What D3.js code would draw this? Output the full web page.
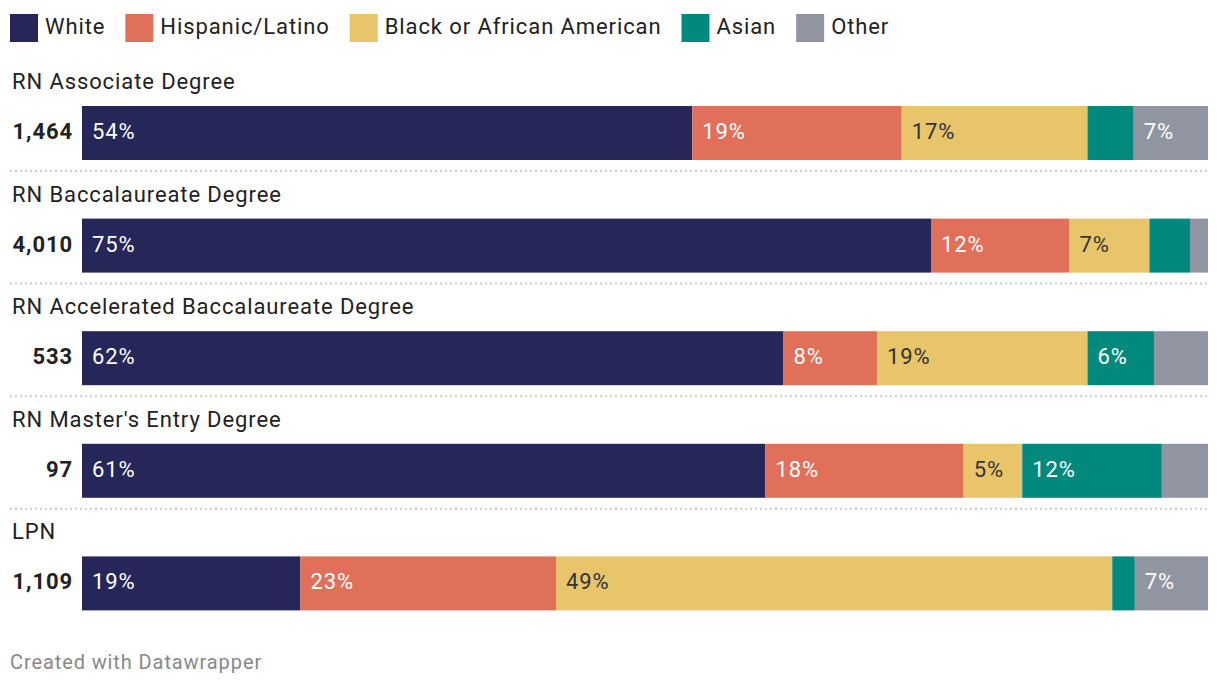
<!DOCTYPE html>
<html><head><meta charset="utf-8">
<script src="https://cdn.jsdelivr.net/npm/d3@7"></script>
<style>body{margin:0;background:#fff;font-family:Roboto,"Noto Sans",sans-serif;} text{letter-spacing:0.9px;}</style>
</head><body><svg id="c" width="1220" height="688"></svg>
<script>
const categories = ["RN Associate Degree","RN Baccalaureate Degree","RN Accelerated Baccalaureate Degree","RN Master's Entry Degree","LPN"];
const totals = ["1,464","4,010","533","97","1,109"];
const seriesNames = ["White","Hispanic/Latino","Black or African American","Asian","Other"];
const white = [54.2, 75.4, 62.3, 60.7, 19.4];
const hispanic = [18.6, 12.3, 8.3, 17.6, 22.7];
const black = [16.5, 7.1, 18.7, 5.2, 49.4];
const asian = [4.1, 3.6, 5.9, 12.4, 2.0];
const other = [6.6, 1.6, 4.8, 4.1, 6.5];
const colors = ["#262659","#e0705a","#e8c46b","#02897e","#9195a1"];
const textColors = ["#fff","#fff","#333","#fff","#fff"];

const series = [white, hispanic, black, asian, other];
const svg = d3.select("#c");
const x = d3.scaleLinear().domain([0,100]).range([82,1208]);
const y = d3.scaleBand().domain(categories).range([68, 631]).paddingInner(0).paddingOuter(0);
const color = d3.scaleOrdinal().domain(seriesNames).range(colors);

// legend
const leg = svg.append("g");
let lx = 10;
seriesNames.forEach((n,i)=>{
  leg.append("rect").attr("x",lx).attr("y",14).attr("width",28).attr("height",28).attr("fill",color(n));
  const t = leg.append("text").attr("x",lx+35).attr("y",34).attr("font-size",22).attr("fill","#222").text(n);
  lx += 35 + t.node().getComputedTextLength() + 20;
});

categories.forEach((c,i)=>{
  const g = svg.append("g").attr("transform",`translate(0,${y(c)})`);
  g.append("text").attr("x",12).attr("y",21).attr("font-size",22).attr("fill","#222").text(c);
  g.append("text").attr("x",73).attr("y",71).attr("text-anchor","end").attr("font-size",22).attr("font-weight","bold").attr("fill","#222").text(totals[i]);
  let acc = 0;
  series.forEach((s,j)=>{
    const v = s[i];
    const x0 = x(acc), x1 = x(acc+v);
    g.append("rect").attr("x",x0).attr("y",38).attr("width",x1-x0).attr("height",54).attr("fill",colors[j]);
    if (v >= 5) {
      g.append("text").attr("x",x0+10).attr("y",71).attr("font-size",22).attr("fill",textColors[j]).text(Math.round(v)+"%");
    }
    acc += v;
  });
  if (i < categories.length-1) {
    g.append("line").attr("x1",10).attr("x2",1208).attr("y1",103).attr("y2",103)
      .attr("stroke","#ccc").attr("stroke-width",2).attr("stroke-dasharray","2,3");
  }
});

svg.append("text").attr("x",10).attr("y",669).attr("font-size",20).attr("fill","#888").text("Created with Datawrapper");
</script></body></html>
